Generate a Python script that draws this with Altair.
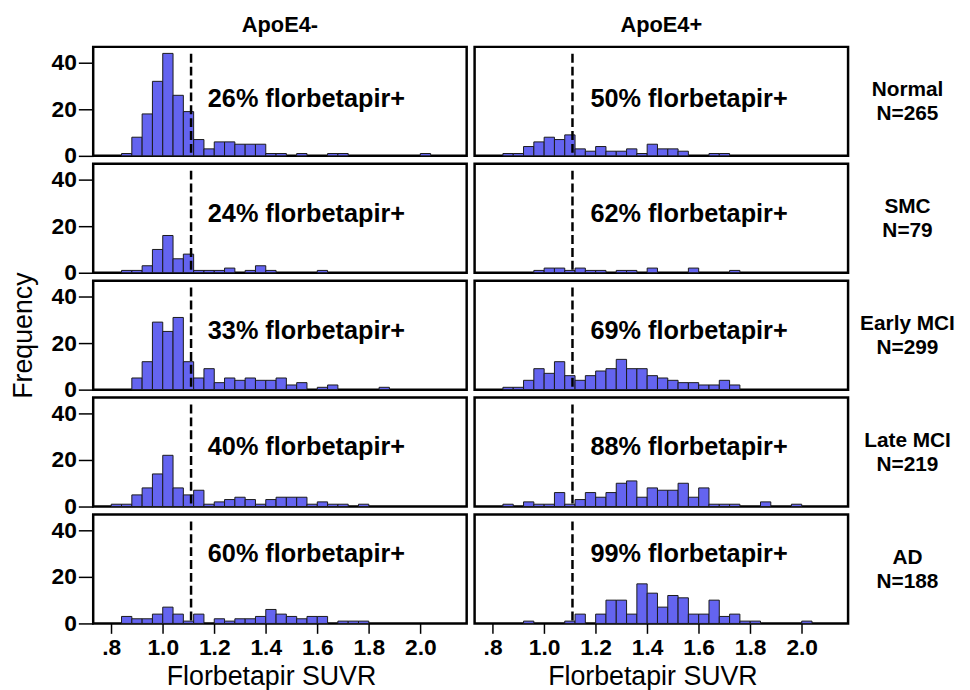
import altair as alt
import pandas as pd

# ---------------- data ----------------
bin_starts = [0.80, 0.84, 0.88, 0.92, 0.96, 1.00, 1.04, 1.08, 1.12, 1.16,
              1.20, 1.24, 1.28, 1.32, 1.36, 1.40, 1.44, 1.48, 1.52, 1.56,
              1.60, 1.64, 1.68, 1.72, 1.76, 1.80, 1.84, 1.88, 1.92, 1.96, 2.00]
bin_width = 0.04

groups = ["Normal", "SMC", "Early MCI", "Late MCI", "AD"]
group_n = [265, 79, 299, 219, 188]
genotypes = ["ApoE4-", "ApoE4+"]

normal_neg = [0, 1, 8, 18, 32, 44, 26, 19, 7, 3, 6, 6, 5, 5, 5, 1, 1, 0, 1, 0, 0, 1, 1, 0, 0, 0, 0, 0, 0, 0, 1]
normal_pos = [0, 1, 1, 4, 6, 8, 7, 9, 3, 2, 4, 2, 2, 3, 1, 5, 3, 3, 2, 0, 0, 1, 1, 0, 0, 0, 0, 0, 0, 0, 0]
smc_neg = [0, 1, 1, 3, 10, 16, 6, 8, 1, 1, 1, 2, 0, 1, 3, 1, 0, 0, 0, 0, 1, 0, 0, 0, 0, 0, 0, 0, 0, 0, 0]
smc_pos = [0, 0, 0, 0, 1, 2, 2, 1, 2, 1, 1, 0, 1, 1, 0, 2, 0, 0, 0, 2, 0, 0, 0, 1, 0, 0, 0, 0, 0, 0, 0]
early_neg = [0, 0, 5, 12, 29, 25, 31, 12, 5, 9, 3, 5, 4, 5, 4, 4, 5, 2, 3, 0, 1, 2, 0, 0, 0, 0, 1, 0, 0, 0, 0]
early_pos = [0, 1, 1, 4, 9, 7, 12, 6, 4, 6, 8, 9, 13, 9, 9, 6, 5, 4, 3, 3, 2, 2, 4, 2, 0, 0, 0, 0, 0, 0, 0]
late_neg = [1, 1, 5, 8, 14, 22, 8, 5, 7, 1, 2, 3, 4, 3, 1, 3, 4, 4, 4, 1, 2, 1, 1, 0, 1, 0, 0, 0, 0, 0, 0]
late_pos = [0, 1, 0, 2, 1, 1, 6, 1, 3, 6, 4, 6, 10, 11, 4, 8, 7, 7, 10, 4, 8, 1, 1, 1, 0, 0, 2, 0, 0, 1, 0]
ad_neg = [0, 3, 2, 2, 4, 7, 4, 1, 4, 0, 2, 1, 2, 2, 3, 6, 4, 3, 2, 3, 3, 0, 1, 1, 1, 0, 0, 0, 0, 0, 0]
ad_pos = [0, 0, 0, 1, 0, 0, 0, 1, 4, 0, 4, 10, 10, 4, 17, 13, 7, 12, 11, 4, 4, 10, 3, 4, 1, 1, 0, 0, 0, 0, 1]

pct_neg = [26, 24, 33, 40, 60]
pct_pos = [50, 62, 69, 88, 99]
threshold = 1.11

x_ticks = [0.8, 1.0, 1.2, 1.4, 1.6, 1.8, 2.0]
y_ticks = [0, 20, 40]

counts_table = [
    [normal_neg, normal_pos],
    [smc_neg, smc_pos],
    [early_neg, early_pos],
    [late_neg, late_pos],
    [ad_neg, ad_pos],
]
pct_table = list(zip(pct_neg, pct_pos))

# ---------------- layout / style ----------------
W, H = 377, 110
XDOM = [0.73, 2.18]
YDOM = [0, 46.8]
FONT = "Liberation Sans"
BAR_FILL = "#6464f0"
TEXT_X = [1.175, 1.18]
TEXT_Y = [53, 51, 51, 50, 40]

xscale = alt.Scale(domain=XDOM, nice=False, zero=False)
yscale = alt.Scale(domain=YDOM, nice=False)


def panel(r, c):
    counts = counts_table[r][c]
    df = pd.DataFrame({"x": bin_starts, "count": counts})
    df = df[df["count"] > 0].copy()
    df["x2"] = df["x"] + bin_width
    df["base"] = 0

    if r == 4:
        xaxis = alt.Axis(values=x_ticks, title="Florbetapir SUVR",
                         labelExpr="datum.value < 0.85 ? '.8' : format(datum.value, '.1f')",
                         tickSize=10, labelPadding=3, titlePadding=5, titleX=W / 2 - 9)
    else:
        xaxis = None
    if c == 0:
        yaxis = alt.Axis(values=y_ticks, title="Frequency", tickSize=15,
                         labelPadding=2, titlePadding=14,
                         titleColor="black" if r == 2 else "transparent")
    else:
        yaxis = None

    bars = alt.Chart(df).mark_bar(fill=BAR_FILL, stroke="#1a1a1a", strokeWidth=1).encode(
        x=alt.X("x:Q", scale=xscale, axis=xaxis),
        x2="x2:Q",
        y=alt.Y("count:Q", scale=yscale, axis=yaxis),
        y2="base:Q",
    )
    rule = alt.Chart(pd.DataFrame({"x": [threshold]})).mark_rule(
        color="black", strokeWidth=2.5, strokeDash=[9, 4]
    ).encode(x=alt.X("x:Q", scale=xscale, axis=xaxis), y=alt.value(7), y2=alt.value(H))

    ann = alt.Chart(pd.DataFrame({"x": [TEXT_X[c]], "t": [f"{pct_table[r][c]}% florbetapir+"]})).mark_text(
        align="left", baseline="middle", font=FONT, fontSize=25.5, fontWeight="bold", color="black"
    ).encode(x=alt.X("x:Q", scale=xscale, axis=xaxis), y=alt.value(TEXT_Y[r]), text="t:N")

    layers = [bars, rule, ann]
    if c == 1:
        lab = alt.Chart(pd.DataFrame({"t": [f"{groups[r]}|N={group_n[r]}"]})).mark_text(
            align="center", baseline="middle", font=FONT, fontSize=21, fontWeight="bold",
            color="black", lineBreak="|", lineHeight=24
        ).encode(x=alt.value(W + 60), y=alt.value(44), text="t:N")
        layers.append(lab)
    if r == 0:
        head = alt.Chart(pd.DataFrame({"t": [genotypes[c]]})).mark_text(
            align="center", baseline="middle", font=FONT, fontSize=22, fontWeight="bold",
            color="black"
        ).encode(x=alt.value(W / 2), y=alt.value(-22), text="t:N")
        layers.append(head)

    return alt.layer(*layers).properties(width=W, height=H)


panels = [panel(r, c) for r in range(5) for c in range(2)]

chart = alt.concat(*panels, columns=2, spacing=8, bounds="flush").properties(
    padding={"left": 0, "top": 1, "right": 5, "bottom": 0}
).configure_view(
    stroke="black", strokeWidth=2.5
).configure_axis(
    grid=False, domain=False,
    labelFont=FONT, labelFontSize=23, labelFontWeight="bold", labelColor="black",
    titleFont=FONT, titleFontSize=27, titleFontWeight="normal", titleColor="black",
    tickColor="black", tickWidth=1.5,
)

chart.save("out.html", embed_options={"renderer": "svg", "actions": False})
